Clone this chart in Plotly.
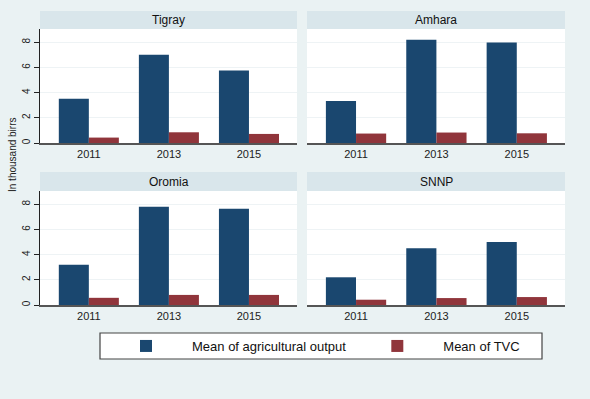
import plotly.graph_objects as go

years = ["2011", "2013", "2015"]
regions = ["Tigray", "Amhara", "Oromia", "SNNP"]
agri_output = {
    "Tigray": [3.52, 7.0, 5.76],
    "Amhara": [3.33, 8.2, 7.97],
    "Oromia": [3.2, 7.8, 7.65],
    "SNNP": [2.2, 4.5, 5.0],
}
tvc = {
    "Tigray": [0.43, 0.85, 0.72],
    "Amhara": [0.75, 0.83, 0.77],
    "Oromia": [0.57, 0.8, 0.8],
    "SNNP": [0.42, 0.55, 0.63],
}
y_ticks = [0, 2, 4, 6, 8]

W, H = 590, 399
BLUE = "#1a476f"
RED = "#90353b"
BG = "#eaf2f3"
STRIP = "#d9e6eb"
FONT = "Liberation Sans, Arial, sans-serif"

def px(x):
    return x / W

def py(y):
    return 1 - y / H

# panel pixel boxes: (x0, x1, strip_top, plot_top, plot_bottom)
panels = [
    (40, 297, 11, 29, 143),
    (307, 565, 11, 29, 143),
    (40, 297, 172, 191, 305),
    (307, 565, 172, 191, 305),
]

fig = go.Figure()
shapes = []
annotations = []
layout = {}

for i, reg in enumerate(regions):
    n = i + 1
    xa = "x" if n == 1 else f"x{n}"
    ya = "y" if n == 1 else f"y{n}"
    fig.add_trace(go.Bar(
        x=years, y=agri_output[reg], xaxis=xa, yaxis=ya,
        marker=dict(color=BLUE, line=dict(width=0)),
        name="Mean of agricultural output", legendgroup="a",
        showlegend=(i == 0), offsetgroup="a",
    ))
    fig.add_trace(go.Bar(
        x=years, y=tvc[reg], xaxis=xa, yaxis=ya,
        marker=dict(color=RED, line=dict(width=0)),
        name="Mean of TVC", legendgroup="b",
        showlegend=(i == 0), offsetgroup="b",
    ))
    x0, x1, st, pt, pb = panels[i]
    left = (i % 2 == 0)
    xkey = "xaxis" if n == 1 else f"xaxis{n}"
    ykey = "yaxis" if n == 1 else f"yaxis{n}"
    layout[xkey] = dict(
        domain=[px(x0), px(x1)], anchor=ya, type="category",
        range=[-0.61, 2.6], showline=True, linecolor="#555555", linewidth=1.5,
        ticks="", showgrid=False, zeroline=False,
        tickfont=dict(family=FONT, size=11, color="#222222"),
    )
    layout[ykey] = dict(
        domain=[py(pb), py(pt)], anchor=xa, range=[0, 9.05],
        tickvals=y_ticks, showticklabels=left,
        ticks="outside" if left else "", ticklen=5, tickcolor="#222222",
        tickangle=-90, showline=left, linecolor="#222222", linewidth=1,
        showgrid=True, gridcolor="#eef3f5", gridwidth=1, zeroline=False,
        tickfont=dict(family=FONT, size=10, color="#222222"),
    )
    shapes.append(dict(type="rect", xref="paper", yref="paper",
                       x0=px(x0), x1=px(x1), y0=py(pt), y1=py(st),
                       fillcolor=STRIP, line=dict(width=0), layer="below"))
    annotations.append(dict(text=reg, xref="paper", yref="paper",
                            x=(px(x0) + px(x1)) / 2, y=(py(pt) + py(st)) / 2,
                            showarrow=False, xanchor="center", yanchor="middle",
                            font=dict(family=FONT, size=12, color="#111111")))

# legend box
shapes.append(dict(type="rect", xref="paper", yref="paper",
                   x0=px(100), x1=px(542), y0=py(359), y1=py(333),
                   fillcolor="white", line=dict(color="#444444", width=1.2),
                   layer="below"))

annotations.append(dict(text="In thousand birrs", xref="paper", yref="paper",
                        x=px(12), y=py(155), textangle=-90, showarrow=False,
                        xanchor="center", yanchor="middle",
                        font=dict(family=FONT, size=10, color="#222222")))

fig.update_layout(
    **layout,
    barmode="group", bargap=0.25, bargroupgap=0,
    width=W, height=H, margin=dict(l=0, r=0, t=0, b=0),
    paper_bgcolor=BG, plot_bgcolor="white",
    shapes=shapes, annotations=annotations,
    showlegend=True,
    legend=dict(orientation="h", x=px(100), y=py(346), xanchor="left",
                yanchor="middle", bgcolor="rgba(0,0,0,0)", borderwidth=0,
                itemwidth=82,
                font=dict(family=FONT, size=13, color="#111111"),
                traceorder="normal"),
)

fig.write_html("out.html")
